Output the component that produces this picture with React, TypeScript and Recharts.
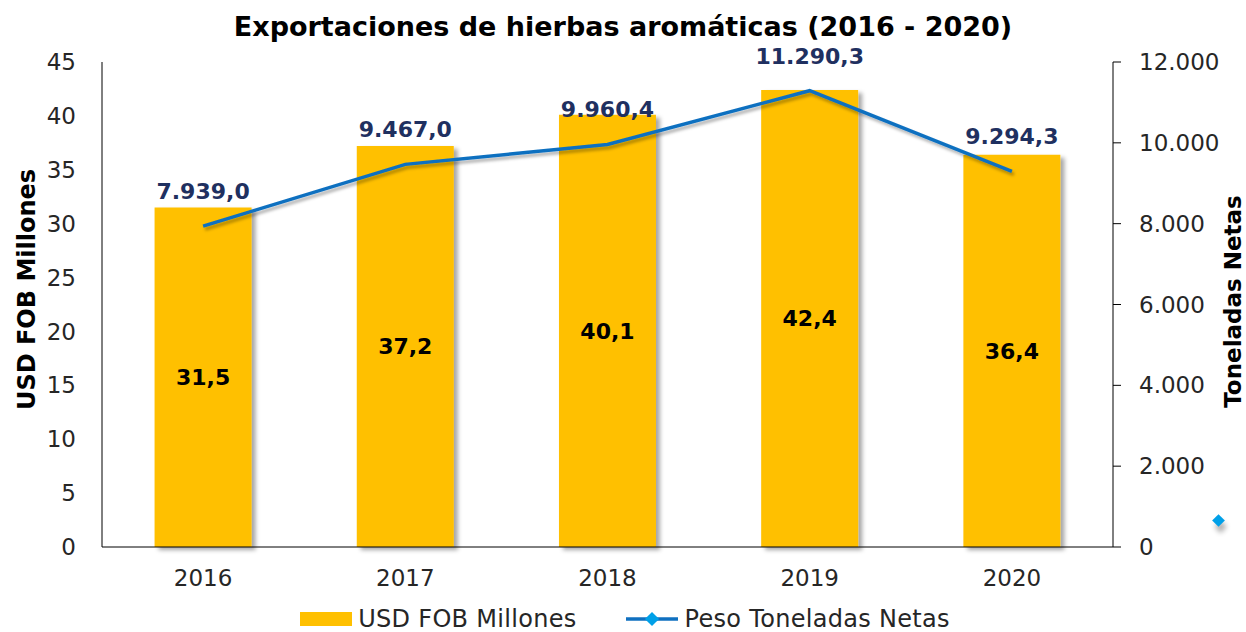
import {
  Bar,
  ComposedChart,
  LabelList,
  Legend,
  Line,
  XAxis,
  YAxis,
} from "recharts"

const years = ["2016", "2017", "2018", "2019", "2020"]
const usdFob = [31.5, 37.2, 40.1, 42.4, 36.4]
const toneladas = [7939.0, 9467.0, 9960.4, 11290.3, 9294.3]
const usdTicks = [0, 5, 10, 15, 20, 25, 30, 35, 40, 45]
const tonTicks = [0, 2000, 4000, 6000, 8000, 10000, 12000]

const data = years.map((year, i) => ({ year, usd: usdFob[i], ton: toneladas[i] }))

const FONT = "'DejaVu Sans', sans-serif"
const GOLD = "#FFC000"
const BLUE = "#0F70C0"
const NAVY = "#1F3060"
const TICK = { fill: "#262626", fontSize: 23, fontFamily: FONT }

// 1.234,5 style numbers
const fmtEs = (v: number, dec: number) => {
  const [int, frac] = v.toFixed(dec).split(".")
  const withDots = int.replace(/\B(?=(\d{3})+(?!\d))/g, ".")
  return frac ? `${withDots},${frac}` : withDots
}

// rotated axis title, placed from the axis viewBox
function AxisTitle({ viewBox, text, side, shiftY }: any) {
  const { x, y, width, height } = viewBox
  const cx = side === "left" ? x + 27 : x + width - 13
  const cy = y + height / 2 + shiftY
  return (
    <text
      x={cx}
      y={cy}
      transform={`rotate(-90 ${cx} ${cy})`}
      textAnchor="middle"
      dominantBaseline="central"
      fontFamily={FONT}
      fontWeight="bold"
      fontSize={side === "left" ? 24 : 23}
      fill="#000"
    >
      {text}
    </text>
  )
}

function LegendContent() {
  return (
    <div
      style={{
        display: "flex",
        justifyContent: "center",
        alignItems: "center",
        height: 26,
        lineHeight: "26px",
        fontFamily: FONT,
        fontSize: 24,
        letterSpacing: 0.3,
        color: "#262626",
        paddingLeft: 4,
      }}
    >
      <span style={{ display: "flex", alignItems: "center", gap: 6, marginRight: 48 }}>
        <span style={{ width: 52, height: 14, background: GOLD, display: "inline-block" }} />
        USD FOB Millones
      </span>
      <span style={{ display: "flex", alignItems: "center", gap: 6 }}>
        <svg width={54} height={16}>
          <line x1={1} y1={8} x2={53} y2={8} stroke={BLUE} strokeWidth={3.5} />
          <rect x={22} y={3} width={10} height={10} fill="#00A0E8" transform="rotate(45 27 8)" />
        </svg>
        Peso Toneladas Netas
      </span>
    </div>
  )
}

export default function App() {
  return (
    <div style={{ position: "absolute", left: 0, top: 0, width: 1246, height: 632, background: "#fff" }}>
      <svg width={0} height={0} style={{ position: "absolute" }}>
        <defs>
          <filter id="shadow" x="-10%" y="-10%" width="130%" height="130%">
            <feDropShadow dx={4} dy={3} stdDeviation={2} floodColor="#000" floodOpacity={0.35} />
          </filter>
          <filter id="lineShadow" x="-10%" y="-20%" width="120%" height="150%">
            <feDropShadow dx={2} dy={3} stdDeviation={1.5} floodColor="#000" floodOpacity={0.3} />
          </filter>
        </defs>
      </svg>
      <div
        style={{
          position: "absolute",
          top: 11,
          width: 1246,
          textAlign: "center",
          fontFamily: FONT,
          fontWeight: "bold",
          fontSize: 27,
          lineHeight: "32px",
          color: "#000",
        }}
      >
        Exportaciones de hierbas aromáticas (2016 - 2020)
      </div>
      <ComposedChart
        width={1246}
        height={632}
        data={data}
        margin={{ top: 62, right: 0, bottom: 0, left: 0 }}
        barCategoryGap="26%"
      >
        <XAxis
          dataKey="year"
          stroke="#000"
          tickLine={false}
          height={59}
          tick={TICK}
          tickMargin={17}
        />
        <YAxis
          yAxisId="left"
          width={102}
          domain={[0, 45]}
          ticks={usdTicks}
          stroke="#000"
          tickLine={false}
          tick={TICK}
          tickMargin={20}
          label={(props: any) => <AxisTitle {...props} text="USD FOB Millones" side="left" shiftY={-15} />}
        />
        <YAxis
          yAxisId="right"
          orientation="right"
          width={133}
          domain={[0, 12000]}
          ticks={tonTicks}
          stroke="#000"
          tickSize={8}
          tick={TICK}
          tickMargin={18}
          tickFormatter={(v: number) => fmtEs(v, 0)}
          label={(props: any) => <AxisTitle {...props} text="Toneladas Netas" side="right" shiftY={-3} />}
        />
        <Legend verticalAlign="bottom" content={<LegendContent />} />
        <Bar
          yAxisId="left"
          dataKey="usd"
          name="USD FOB Millones"
          fill={GOLD}
          filter="url(#shadow)"
          isAnimationActive={false}
        >
          <LabelList
            dataKey="usd"
            position="center"
            formatter={(v: number) => fmtEs(v, 1)}
            style={{ fontFamily: FONT, fontWeight: "bold", fontSize: 22, fill: "#000" }}
          />
        </Bar>
        <Line
          yAxisId="right"
          dataKey="ton"
          name="Peso Toneladas Netas"
          stroke={BLUE}
          strokeWidth={3.5}
          dot={false}
          activeDot={false}
          filter="url(#lineShadow)"
          isAnimationActive={false}
        >
          <LabelList
            dataKey="ton"
            position="top"
            offset={27}
            formatter={(v: number) => fmtEs(v, 1)}
            style={{ fontFamily: FONT, fontWeight: "bold", fontSize: 22, fill: NAVY }}
          />
        </Line>
      </ComposedChart>
      <div
        style={{
          position: "absolute",
          left: 1214,
          top: 516,
          width: 9,
          height: 9,
          background: "#00A0E8",
          transform: "rotate(45deg)",
          boxShadow: "6px 3px 5px rgba(0,0,0,0.3)",
        }}
      />
    </div>
  )
}
